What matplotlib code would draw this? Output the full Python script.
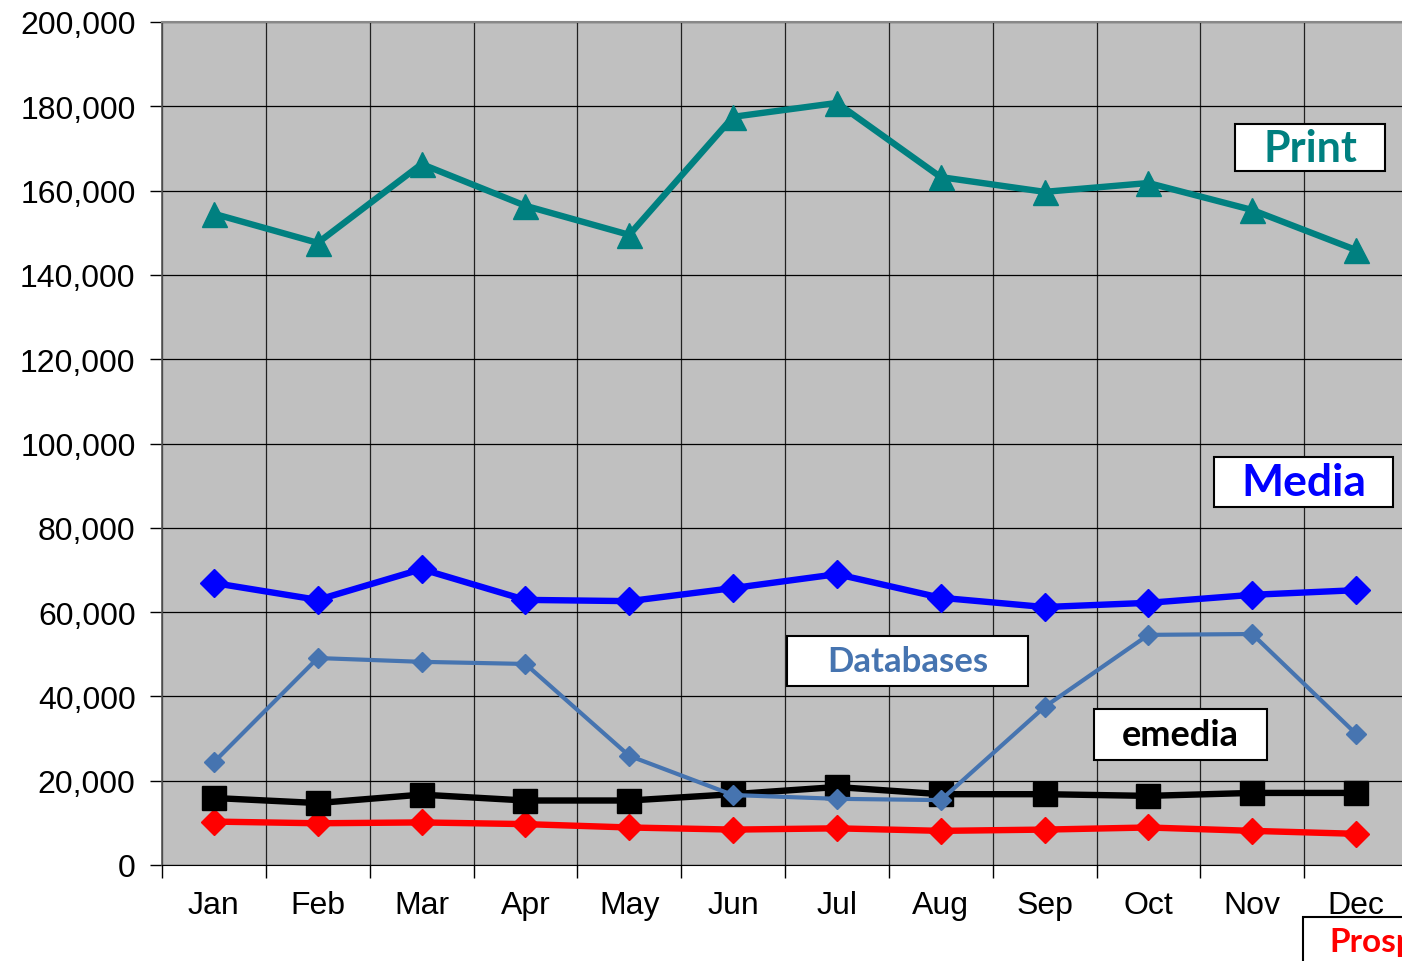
import matplotlib
matplotlib.use('Agg')
import matplotlib.pyplot as plt
from matplotlib.patches import Rectangle
from matplotlib.ticker import FuncFormatter, MultipleLocator
import numpy as np

# ── Data ──────────────────────────────────────────────────────────────────────
months = ['Jan', 'Feb', 'Mar', 'Apr', 'May', 'Jun',
          'Jul', 'Aug', 'Sep', 'Oct', 'Nov', 'Dec']
print_vals = [154500, 147600, 166300, 156400, 149500, 177500,
              180800, 163200, 159700, 161800, 155400, 145900]
media_vals = [66900, 62900, 70200, 62900, 62600, 65700,
              69000, 63400, 61200, 62200, 64100, 65200]
db_vals = [24400, 49100, 48200, 47700, 25900, 16600,
           15700, 15400, 37500, 54600, 54800, 31100]
emedia_vals = [15900, 14700, 16700, 15300, 15300, 16800,
               18500, 16800, 16800, 16400, 17100, 17100]
prospect_vals = [10300, 9900, 10100, 9700, 8900, 8400,
                 8700, 8100, 8400, 8900, 8100, 7400]

W, H = 1402, 962
TEAL = '#008080'
BLUE = '#0000ff'
STEEL = '#4674b0'
RED = '#ff0000'

fig = plt.figure(figsize=(W / 100, H / 100), dpi=100)
fig.patch.set_facecolor('white')
ax = fig.add_axes([162 / W, 1 - 866 / H, 1246 / W, 843 / H])
ax.set_facecolor('#c0c0c0')

x = np.arange(len(months))

# draw order: back to front
ax.plot(x, prospect_vals, color=RED, lw=4.6, marker='D', ms=13,
        mfc=RED, mec=RED, zorder=3, clip_on=False)
ax.plot(x, emedia_vals, color='black', lw=4.6, marker='s', ms=17,
        mfc='black', mec='black', zorder=3, clip_on=False)
ax.plot(x, db_vals, color=STEEL, lw=3.0, marker='D', ms=10,
        mfc=STEEL, mec=STEEL, zorder=4, clip_on=False)
ax.plot(x, media_vals, color=BLUE, lw=4.6, marker='D', ms=14,
        mfc=BLUE, mec=BLUE, zorder=4, clip_on=False)
ax.plot(x, print_vals, color=TEAL, lw=4.6, marker='^', ms=18,
        mfc=TEAL, mec=TEAL, zorder=4, clip_on=False)

ax.set_xlim(-0.5, 11.5)
ax.set_ylim(0, 200000)
ax.yaxis.set_major_locator(MultipleLocator(20000))
ax.yaxis.set_major_formatter(FuncFormatter(lambda v, p: f'{int(v):,}'))

ax.set_xticks(x)
ax.set_xticklabels(months)
ax.set_xticks(np.arange(-0.5, 12, 1), minor=True)
ax.tick_params(axis='x', which='major', length=0, pad=18)
ax.tick_params(axis='x', which='minor', length=9, width=1.0, direction='out')
ax.tick_params(axis='y', length=9, width=1.0, direction='out', pad=10)
for lab in ax.get_xticklabels() + ax.get_yticklabels():
    lab.set_fontfamily('Liberation Sans')
    lab.set_fontsize(23)

ax.grid(True, axis='y', which='major', color='black', lw=0.9)
ax.grid(True, axis='x', which='minor', color='#222222', lw=0.9)
ax.set_axisbelow(True)

ax.spines['left'].set_color('#555555')
ax.spines['left'].set_linewidth(1.2)
ax.spines['bottom'].set_color('black')
ax.spines['top'].set_color('#888888')
ax.spines['top'].set_linewidth(1.5)
ax.spines['right'].set_visible(False)


# ── Series label boxes ─────────────────────────────────────────────────────────
def label_box(x0, y0, x1, y1, text, color, size):
    fig.add_artist(Rectangle((x0 / W, 1 - y1 / H), (x1 - x0) / W, (y1 - y0) / H,
                             transform=fig.transFigure, facecolor='white',
                             edgecolor='black', lw=1.5, zorder=10))
    fig.text((x0 + x1) / 2 / W, 1 - (y0 + y1) / 2 / H, text, color=color,
             fontsize=size, fontweight='bold', family='Lato',
             ha='center', va='center', zorder=11)


label_box(1235, 125, 1385, 172, 'Print', TEAL, 31)
label_box(1214, 458, 1393, 508, 'Media', BLUE, 32)
label_box(787, 637, 1028, 687, 'Databases', STEEL, 25)
label_box(1094, 710, 1267, 761, 'emedia', 'black', 26)

fig.add_artist(Rectangle((1303 / W, -0.05), 0.2, (962 - 918) / H + 0.05,
                         transform=fig.transFigure, facecolor='white',
                         edgecolor='black', lw=1.5, zorder=10))
fig.text(1329 / W, 1 - 943 / H, 'Prospects', color=RED, fontsize=24,
         fontweight='bold', family='Lato', ha='left', va='center', zorder=11)

fig.savefig('out.png', dpi=100)
